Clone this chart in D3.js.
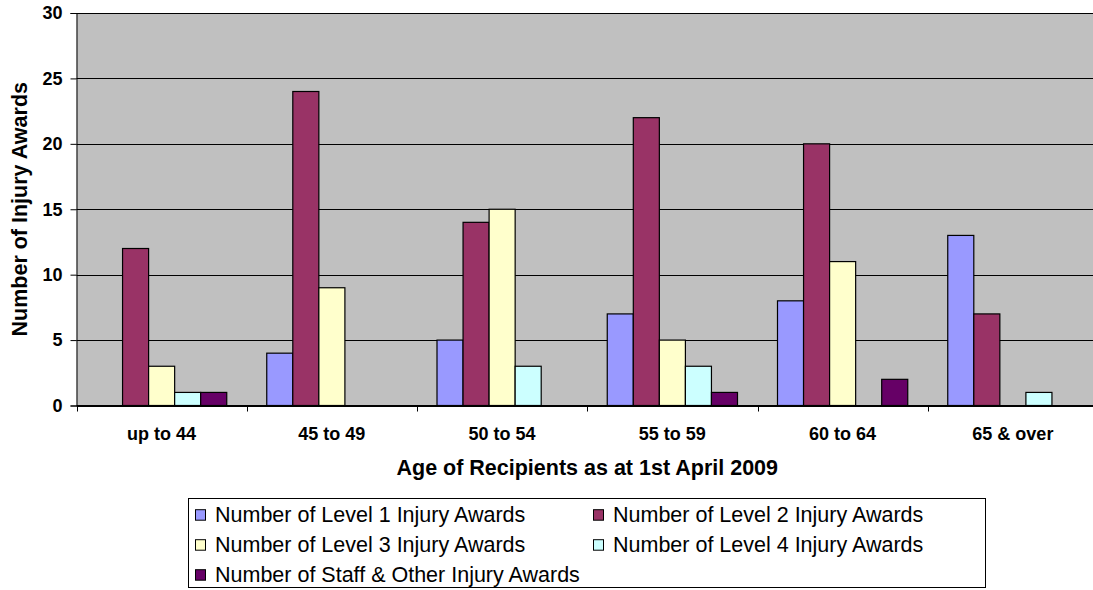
<!DOCTYPE html>
<html lang="en">
  <head>
    <meta charset="utf-8">
    <title>Injury Awards by Age</title>
    <script src="https://d3js.org/d3.v7.min.js"></script>
    <style>
      body { margin: 0; background: #fff; }
      text { font-family: Arial, "Liberation Sans", sans-serif; }
    </style>
  </head>
  <body>
    <div id="chart"></div>
    <script type="text/javascript">
      // data
      var categories = ["up to 44", "45 to 49", "50 to 54", "55 to 59", "60 to 64", "65 & over"];
      var seriesNames = [
        "Number of Level 1 Injury Awards",
        "Number of Level 2 Injury Awards",
        "Number of Level 3 Injury Awards",
        "Number of Level 4 Injury Awards",
        "Number of Staff & Other Injury Awards"
      ];
      var level1 = [0, 4, 5, 7, 8, 13];
      var level2 = [12, 24, 14, 22, 20, 7];
      var level3 = [3, 9, 15, 5, 11, 0];
      var level4 = [1, 0, 3, 3, 0, 1];
      var staffOther = [1, 0, 0, 1, 2, 0];
      var yTicks = [0, 5, 10, 15, 20, 25, 30];

      var colors = ["#9999ff", "#993366", "#ffffcc", "#ccffff", "#660066"];
      var allSeries = [level1, level2, level3, level4, staffOther];

      var width = 1093, height = 590;
      // plot runs off the right edge, as in the original
      var plot = { left: 76.5, right: 1098, top: 13, bottom: 405.5 };

      var svg = d3.select("#chart")
        .append("svg")
        .attr("width", width)
        .attr("height", height);

      var x = d3.scaleBand()
        .domain(categories)
        .range([plot.left, plot.right])
        .padding(0);

      var gap = 20;
      var xInner = d3.scaleBand()
        .domain(d3.range(seriesNames.length))
        .range([gap, x.bandwidth() - gap])
        .padding(0);

      var y = d3.scaleLinear()
        .domain([0, 30])
        .range([plot.bottom, plot.top]);

      // plot background
      svg.append("rect")
        .attr("x", plot.left)
        .attr("y", plot.top)
        .attr("width", plot.right - plot.left)
        .attr("height", plot.bottom - plot.top)
        .attr("fill", "#c0c0c0");

      // gridlines
      svg.append("g")
        .selectAll("line")
        .data(yTicks)
        .enter()
        .append("line")
          .attr("x1", plot.left)
          .attr("x2", plot.right)
          .attr("y1", (d) => Math.round(y(d)) + 0.5)
          .attr("y2", (d) => Math.round(y(d)) + 0.5)
          .attr("stroke", "#000")
          .attr("stroke-width", 1);

      // bars (zero values are not drawn)
      var rows = [];
      allSeries.forEach(function(vals, s) {
        vals.forEach(function(v, c) {
          if (v > 0) rows.push({ cat: categories[c], s: s, v: v });
        });
      });

      svg.append("g")
        .selectAll("rect")
        .data(rows)
        .enter()
        .append("rect")
          .attr("x", (d) => x(d.cat) + xInner(d.s))
          .attr("y", (d) => y(d.v))
          .attr("width", xInner.bandwidth())
          .attr("height", (d) => y(0) - y(d.v))
          .attr("fill", (d) => colors[d.s])
          .attr("stroke", "#000")
          .attr("stroke-width", 1.2);

      // y axis
      var yAxis = d3.axisLeft(y)
        .tickValues(yTicks)
        .tickSize(6)
        .tickPadding(8)
        .tickFormat(d3.format("d"));
      var gy = svg.append("g")
        .attr("transform", "translate(" + plot.left + ",0)")
        .call(yAxis);
      gy.select(".domain").attr("stroke", "#000");
      gy.selectAll("text")
        .style("font-family", "Arial, 'Liberation Sans', sans-serif")
        .style("font-size", "18px")
        .style("font-weight", "bold")
        .attr("fill", "#000");

      // x axis: ticks sit on category boundaries
      var boundaries = categories.map((c) => x(c)).concat([plot.right]);
      var gx = svg.append("g")
        .attr("transform", "translate(0," + plot.bottom + ")");
      gx.append("line")
        .attr("x1", plot.left).attr("x2", plot.right)
        .attr("y1", 0).attr("y2", 0)
        .attr("stroke", "#000");
      gx.selectAll(".tk")
        .data(boundaries)
        .enter()
        .append("line")
          .attr("class", "tk")
          .attr("x1", (d) => Math.round(d) + 0.5)
          .attr("x2", (d) => Math.round(d) + 0.5)
          .attr("y1", 0).attr("y2", 6)
          .attr("stroke", "#000");
      gx.selectAll(".cl")
        .data(categories)
        .enter()
        .append("text")
          .attr("class", "cl")
          .attr("x", (d) => x(d) + x.bandwidth() / 2)
          .attr("y", 34.5)
          .attr("text-anchor", "middle")
          .style("font-size", "18px")
          .style("font-weight", "bold")
          .text((d) => d);

      // axis titles
      svg.append("text")
        .attr("x", (plot.left + plot.right) / 2)
        .attr("y", 475)
        .attr("text-anchor", "middle")
        .style("font-size", "21.5px")
        .style("font-weight", "bold")
        .text("Age of Recipients as at 1st April 2009");

      svg.append("text")
        .attr("transform", "translate(27," + (plot.top + plot.bottom) / 2 + ")rotate(-90)")
        .attr("text-anchor", "middle")
        .style("font-size", "21.5px")
        .style("font-weight", "bold")
        .text("Number of Injury Awards");

      // legend
      var legend = svg.append("g");
      legend.append("rect")
        .attr("x", 188.5).attr("y", 498.5)
        .attr("width", 797).attr("height", 89)
        .attr("fill", "#fff")
        .attr("stroke", "#000");

      var items = legend.selectAll(".item")
        .data(seriesNames)
        .enter()
        .append("g")
          .attr("class", "item")
          .attr("transform", (d, i) => "translate(" + (i % 2 === 0 ? 195 : 593) + "," + (521.7 + Math.floor(i / 2) * 30) + ")");
      items.append("rect")
        .attr("x", 0.5).attr("y", -12)
        .attr("width", 10).attr("height", 10.5)
        .attr("fill", (d, i) => colors[i])
        .attr("stroke", "#000");
      items.append("text")
        .attr("x", 20)
        .attr("y", 0)
        .style("font-size", "21.5px")
        .text((d) => d);
    </script>
  </body>
</html>
